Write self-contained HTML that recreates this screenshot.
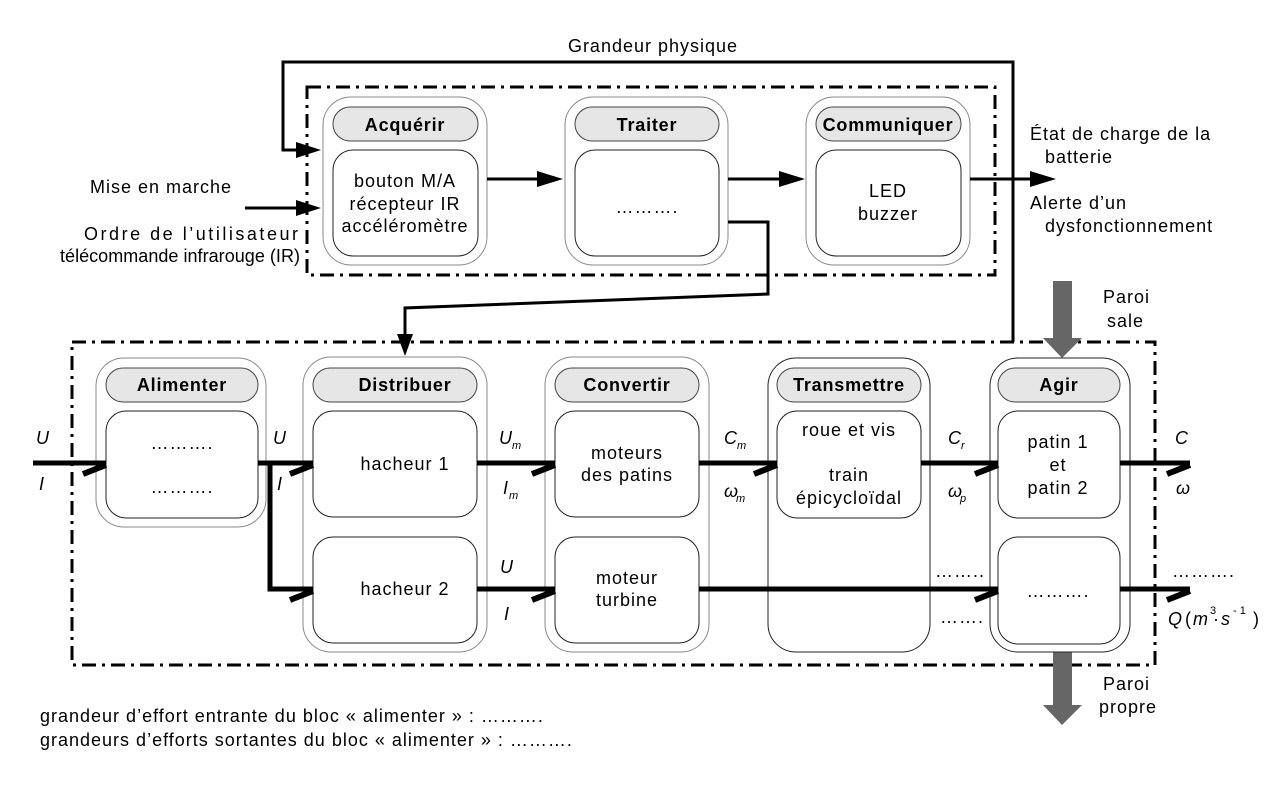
<!DOCTYPE html>
<html><head><meta charset="utf-8"><style>
html,body{margin:0;padding:0;background:#fff;}
svg{display:block;font-family:"Liberation Sans",Arial,sans-serif;}
.t{font-size:18px;letter-spacing:1px;fill:#000;}
.n{font-size:18px;letter-spacing:0;fill:#000;}
.h{font-size:18px;letter-spacing:0.8px;font-weight:bold;fill:#000;}
.i{font-size:18px;font-style:italic;fill:#000;}
.s{font-size:11px;font-style:italic;fill:#000;}
</style></head><body>
<svg width="1283" height="789" viewBox="0 0 1283 789" xmlns="http://www.w3.org/2000/svg">
<rect x="307" y="87" width="688" height="188" fill="none" stroke="#000" stroke-width="3" stroke-dasharray="14,6,3,6"/>
<rect x="72" y="342" width="1083" height="323" fill="none" stroke="#000" stroke-width="3" stroke-dasharray="14,6,3,6"/>

<g fill="none">
<rect x="323" y="97" width="164" height="168" rx="28" stroke="#888"/>
<rect x="333" y="107" width="145" height="34" rx="17" fill="#e6e6e6" stroke="#444"/>
<rect x="333" y="150" width="145" height="106" rx="20" stroke="#222"/>
<rect x="565" y="97" width="163" height="168" rx="28" stroke="#888"/>
<rect x="575" y="107" width="144" height="34" rx="17" fill="#e6e6e6" stroke="#444"/>
<rect x="575" y="150" width="144" height="106" rx="20" stroke="#222"/>
<rect x="806" y="97" width="164" height="168" rx="28" stroke="#888"/>
<rect x="816" y="107" width="145" height="34" rx="17" fill="#e6e6e6" stroke="#444"/>
<rect x="816" y="150" width="145" height="106" rx="20" stroke="#222"/>
</g>
<text class="h" x="405" y="131" text-anchor="middle">Acquérir</text>
<text class="h" x="647" y="131" text-anchor="middle">Traiter</text>
<text class="h" x="888" y="131" text-anchor="middle">Communiquer</text>
<text class="t" x="405" y="187" text-anchor="middle">bouton M/A</text>
<text class="t" x="405" y="210" text-anchor="middle">récepteur IR</text>
<text class="t" x="405" y="232" text-anchor="middle">accéléromètre</text>
<text class="t" x="647" y="213" text-anchor="middle">……….</text>
<text class="t" x="888" y="197" text-anchor="middle">LED</text>
<text class="t" x="888" y="220" text-anchor="middle">buzzer</text>

<g stroke="#000" stroke-width="3" fill="none">
<line x1="487" y1="179" x2="540" y2="179"/>
<line x1="728" y1="179" x2="782" y2="179"/>
<line x1="970" y1="179" x2="1032" y2="179"/>
<line x1="245" y1="208" x2="298" y2="208"/>
<polyline points="1013,342 1013,62 283,62 283,150 298,150"/>
<polyline points="728,222 768,222 768,294 405,308 405,336"/>
</g>
<g fill="#000">
<polygon points="537,171 563,179 537,187"/>
<polygon points="779,171 805,179 779,187"/>
<polygon points="1030,171 1056,179 1030,187"/>
<polygon points="296,200 321,208 296,216"/>
<polygon points="296,142 321,150 296,158"/>
<polygon points="397,334 405,356 413,334"/>
</g>
<text class="t" x="653" y="52" text-anchor="middle">Grandeur physique</text>
<text class="t" x="90" y="193">Mise en marche</text>
<text class="n" x="84" y="240" textLength="214" lengthAdjust="spacing">Ordre de l’utilisateur</text>
<text class="n" x="60" y="262" textLength="240" lengthAdjust="spacing">télécommande infrarouge (IR)</text>
<text class="t" x="1030" y="140">État de charge de la</text>
<text class="t" x="1045" y="163">batterie</text>
<text class="t" x="1030" y="209">Alerte d’un</text>
<text class="t" x="1045" y="232">dysfonctionnement</text>

<g fill="#666">
<rect x="1053" y="281" width="19" height="58"/>
<polygon points="1043,338 1082,338 1062,358"/>
<rect x="1053" y="652" width="19" height="55"/>
<polygon points="1043,705 1082,705 1062,725"/>
</g>
<text class="t" x="1103" y="303">Paroi</text>
<text class="t" x="1107" y="327">sale</text>
<text class="t" x="1103" y="690">Paroi</text>
<text class="t" x="1099" y="713">propre</text>

<g fill="none">
<rect x="96" y="358" width="170" height="169" rx="28" stroke="#888"/>
<rect x="106" y="368" width="152" height="34" rx="17" fill="#e6e6e6" stroke="#444"/>
<rect x="106" y="411" width="152" height="107" rx="20" stroke="#222"/>
<rect x="303" y="357" width="184" height="295" rx="28" stroke="#888"/>
<rect x="313" y="368" width="164" height="34" rx="17" fill="#e6e6e6" stroke="#444"/>
<rect x="313" y="411" width="164" height="106" rx="20" stroke="#222"/>
<rect x="313" y="537" width="164" height="106" rx="20" stroke="#222"/>
<rect x="545" y="357" width="164" height="295" rx="28" stroke="#888"/>
<rect x="555" y="368" width="144" height="34" rx="17" fill="#e6e6e6" stroke="#444"/>
<rect x="555" y="411" width="144" height="106" rx="20" stroke="#222"/>
<rect x="555" y="537" width="144" height="106" rx="20" stroke="#222"/>
<rect x="768" y="358" width="162" height="294" rx="28" stroke="#222"/>
<rect x="777" y="368" width="144" height="34" rx="17" fill="#e6e6e6" stroke="#444"/>
<rect x="777" y="411" width="144" height="107" rx="20" stroke="#222"/>
<rect x="990" y="358" width="140" height="294" rx="28" stroke="#222"/>
<rect x="998" y="368" width="122" height="34" rx="17" fill="#e6e6e6" stroke="#444"/>
<rect x="998" y="411" width="122" height="107" rx="20" stroke="#222"/>
<rect x="998" y="537" width="122" height="107" rx="20" stroke="#222"/>
</g>
<text class="h" x="182" y="391" text-anchor="middle">Alimenter</text>
<text class="h" x="405" y="391" text-anchor="middle">Distribuer</text>
<text class="h" x="627" y="391" text-anchor="middle">Convertir</text>
<text class="h" x="849" y="391" text-anchor="middle">Transmettre</text>
<text class="h" x="1059" y="391" text-anchor="middle">Agir</text>
<text class="t" x="182" y="449" text-anchor="middle">……….</text>
<text class="t" x="182" y="493" text-anchor="middle">……….</text>
<text class="t" x="405" y="470" text-anchor="middle">hacheur 1</text>
<text class="t" x="405" y="595" text-anchor="middle">hacheur 2</text>
<text class="t" x="627" y="459" text-anchor="middle">moteurs</text>
<text class="t" x="627" y="481" text-anchor="middle">des patins</text>
<text class="t" x="627" y="584" text-anchor="middle">moteur</text>
<text class="t" x="627" y="606" text-anchor="middle">turbine</text>
<text class="t" x="849" y="436" text-anchor="middle">roue et vis</text>
<text class="t" x="849" y="481" text-anchor="middle">train</text>
<text class="t" x="849" y="504" text-anchor="middle">épicycloïdal</text>
<text class="t" x="1058" y="448" text-anchor="middle">patin 1</text>
<text class="t" x="1058" y="471" text-anchor="middle">et</text>
<text class="t" x="1058" y="494" text-anchor="middle">patin 2</text>
<text class="t" x="1058" y="597" text-anchor="middle">……….</text>

<g stroke="#000" stroke-width="5" fill="none">
<line x1="33" y1="463" x2="106" y2="463"/>
<line x1="258" y1="463" x2="313" y2="463"/>
<polyline points="270,463 270,589 313,589"/>
<line x1="477" y1="463" x2="555" y2="463"/>
<line x1="477" y1="589" x2="555" y2="589"/>
<line x1="699" y1="463" x2="777" y2="463"/>
<line x1="699" y1="589" x2="998" y2="589"/>
<line x1="921" y1="463" x2="998" y2="463"/>
<line x1="1120" y1="463" x2="1190" y2="463"/>
<line x1="1120" y1="589" x2="1190" y2="589"/>
</g>
<g stroke="#000" stroke-width="6">
<line x1="83" y1="474" x2="106" y2="465"/>
<line x1="290" y1="474" x2="313" y2="465"/>
<line x1="290" y1="600" x2="313" y2="591"/>
<line x1="532" y1="474" x2="555" y2="465"/>
<line x1="532" y1="600" x2="555" y2="591"/>
<line x1="754" y1="474" x2="777" y2="465"/>
<line x1="975" y1="474" x2="998" y2="465"/>
<line x1="975" y1="600" x2="998" y2="591"/>
<line x1="1167" y1="474" x2="1190" y2="465"/>
<line x1="1167" y1="600" x2="1190" y2="591"/>
</g>

<text class="i" x="36" y="444">U</text>
<text class="i" x="39" y="490">I</text>
<text class="i" x="273" y="444">U</text>
<text class="i" x="277" y="490">I</text>
<text class="i" x="499" y="444">U</text><text class="s" x="512" y="449">m</text>
<text class="i" x="503" y="494">I</text><text class="s" x="509" y="499">m</text>
<text class="i" x="500" y="573">U</text>
<text class="i" x="504" y="620">I</text>
<text class="i" x="724" y="444">C</text><text class="s" x="737" y="449">m</text>
<text class="i" x="724" y="497">ω</text><text class="s" x="736" y="502">m</text>
<text class="i" x="948" y="444">C</text><text class="s" x="961" y="449">r</text>
<text class="i" x="948" y="497">ω</text><text class="s" x="960" y="502">p</text>
<text class="i" x="1175" y="444">C</text>
<text class="i" x="1176" y="494">ω</text>
<text class="t" x="935" y="577">……..</text>
<text class="t" x="940" y="623">…….</text>
<text class="t" x="1172" y="577">……….</text>
<text class="i" x="1168" y="625">Q</text>
<text class="t" x="1185" y="625">(</text>
<text class="i" x="1193" y="625">m</text><text class="s" x="1210" y="614" style="font-style:normal">3</text>
<text class="t" x="1213" y="625">·</text>
<text class="i" x="1221" y="625">s</text><text class="s" x="1233" y="614" style="font-style:normal">- 1</text>
<text class="t" x="1253" y="625">)</text>

<text class="t" x="40" y="722">grandeur d’effort entrante du bloc « alimenter » : ……….</text>
<text class="t" x="40" y="746">grandeurs d’efforts sortantes du bloc « alimenter » : ……….</text>
</svg>
</body></html>
